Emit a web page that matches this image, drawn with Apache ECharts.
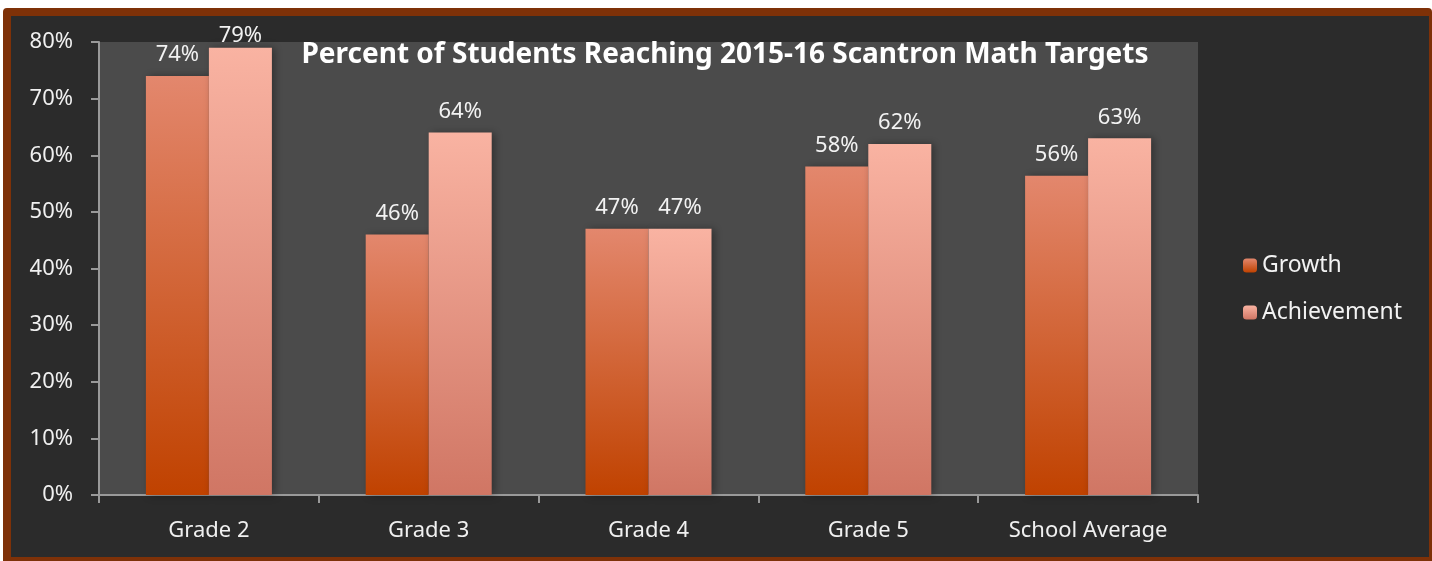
<!DOCTYPE html>
<html>
<head>
<meta charset="utf-8">
<script src="https://cdn.jsdelivr.net/npm/echarts@6/dist/echarts.min.js"></script>
<style>
  html, body { margin: 0; padding: 0; background: #fff; }
  #frame {
    position: absolute; left: 3px; top: 8px; width: 1418px; height: 541px;
    background: #2b2b2b; border: 8px solid #7e3108; border-right-width: 3px;
    border-radius: 4px;
  }
  #main { position: absolute; left: 0; top: 0; width: 1432px; height: 561px; }
</style>
</head>
<body>
<div id="frame"></div>
<div id="main"></div>
<script>
var categories = ['Grade 2', 'Grade 3', 'Grade 4', 'Grade 5', 'School Average'];
var growth = [74, 46, 47, 58, 56.4];
var achievement = [79, 64, 47, 62, 63];
var font = 'Noto Sans';

// 渐变色
function grad (top, bottom) {
  return new echarts.graphic.LinearGradient(0, 0, 0, 1, [
    { offset: 0, color: top },
    { offset: 1, color: bottom }
  ]);
}

// labels near the top of the plot get pushed down (like Excel does)
function items (arr) {
  return arr.map(function (v) {
    if (v >= 78) return { value: v, label: { distance: 1 } };
    return v;
  });
}

var myChart = echarts.init(document.getElementById('main'));

var labelOpt = {
  show: true,
  position: 'top',
  distance: 10,
  color: '#f2f2f2',
  fontFamily: font,
  fontSize: 22,
  formatter: function (p) { return Math.round(p.value) + '%'; }
};

var option = {
  backgroundColor: 'transparent',
  title: {
    text: 'Percent of Students Reaching 2015-16 Scantron Math Targets',
    left: 720,
    textAlign: 'center',
    top: 36,
    textStyle: { color: '#fff', fontFamily: font, fontWeight: 'bold', fontSize: 28 }
  },
  legend: {
    orient: 'vertical',
    left: 1238,
    top: 249,
    itemWidth: 14,
    itemHeight: 14,
    itemGap: 24,
    textStyle: { color: '#f2f2f2', fontFamily: font, fontSize: 23 },
    data: ['Growth', 'Achievement']
  },
  grid: {
    left: 99,
    top: 42,
    width: 1099,
    height: 453,
    show: true,
    backgroundColor: '#4b4b4b',
    borderWidth: 0
  },
  xAxis: {
    type: 'category',
    data: categories,
    axisLine: { lineStyle: { color: '#9a9a9a', width: 2 } },
    axisTick: { show: true, length: 8, lineStyle: { color: '#9a9a9a', width: 2 } },
    axisLabel: { color: '#f0f0f0', fontFamily: font, fontSize: 22, margin: 25 }
  },
  yAxis: {
    type: 'value',
    min: 0,
    max: 80,
    interval: 10,
    splitLine: { show: false },
    axisLine: { show: true, lineStyle: { color: '#9a9a9a', width: 2 } },
    axisTick: { show: true, length: 8, lineStyle: { color: '#9a9a9a', width: 2 } },
    axisLabel: { color: '#f0f0f0', fontFamily: font, fontSize: 22, margin: 26, formatter: '{value}%' }
  },
  series: [
    {
      name: 'Growth',
      type: 'bar',
      data: items(growth),
      barWidth: 63,
      barGap: '0%',
      itemStyle: {
        color: grad('#e3876d', '#c04200'),
        shadowBlur: 8,
        shadowColor: 'rgba(0,0,0,0.35)',
        shadowOffsetX: 3
      },
      label: labelOpt
    },
    {
      name: 'Achievement',
      type: 'bar',
      data: items(achievement),
      barWidth: 63,
      itemStyle: {
        color: grad('#f9b3a2', '#d07664'),
        shadowBlur: 8,
        shadowColor: 'rgba(0,0,0,0.35)',
        shadowOffsetX: 3
      },
      label: labelOpt
    }
  ]
};

myChart.setOption(option);
</script>
</body>
</html>
